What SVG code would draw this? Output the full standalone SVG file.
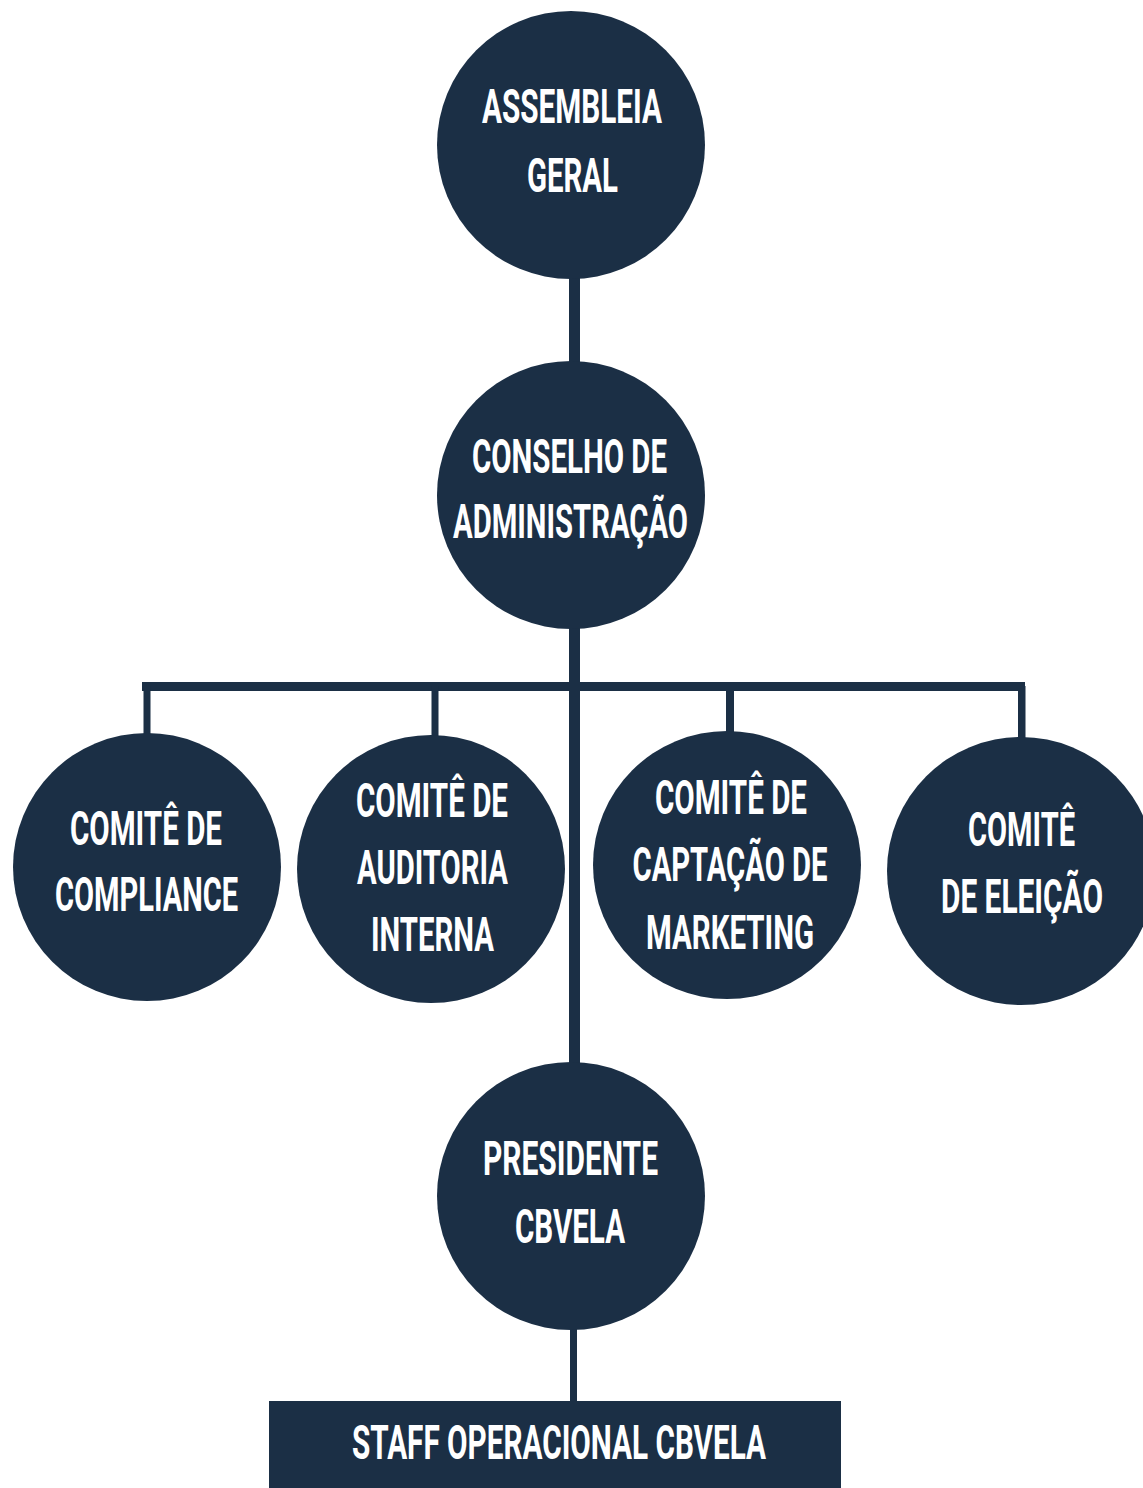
<svg xmlns="http://www.w3.org/2000/svg" width="1143" height="1488" viewBox="0 0 1143 1488">
<style>
.n{fill:#1b2f45}
.c{fill:#1b2f45}
.t{fill:#ffffff;font-family:"Roboto","Liberation Sans",sans-serif;font-weight:bold;font-size:48px;text-anchor:middle}
</style>
<rect width="1143" height="1488" fill="#ffffff"/>
<g id="connectors">
<rect class="c" x="569" y="270" width="11" height="100"/>
<rect class="c" x="569" y="620" width="11" height="450"/>
<rect class="c" x="142" y="682" width="883" height="9"/>
<rect class="c" x="143.5" y="686" width="7" height="52"/>
<rect class="c" x="431.5" y="686" width="7" height="54"/>
<rect class="c" x="726" y="686" width="8" height="50"/>
<rect class="c" x="1018" y="686" width="7.5" height="56"/>
<rect class="c" x="570" y="1320" width="7" height="85"/>
</g>
<g id="assembleia">
<circle class="n" cx="571" cy="145" r="134"/>
<text class="t" x="572" y="123" textLength="180" lengthAdjust="spacingAndGlyphs">ASSEMBLEIA</text>
<text class="t" x="572.5" y="192" textLength="91" lengthAdjust="spacingAndGlyphs">GERAL</text>
</g>
<g id="conselho">
<circle class="n" cx="571" cy="495" r="134"/>
<text class="t" x="569.5" y="473" textLength="195" lengthAdjust="spacingAndGlyphs">CONSELHO DE</text>
<text class="t" x="570.5" y="538" textLength="235" lengthAdjust="spacingAndGlyphs">ADMINISTRAÇÃO</text>
</g>
<g id="compliance">
<circle class="n" cx="147" cy="867" r="134"/>
<text class="t" x="146" y="845" textLength="152" lengthAdjust="spacingAndGlyphs">COMITÊ DE</text>
<text class="t" x="146.5" y="911" textLength="183" lengthAdjust="spacingAndGlyphs">COMPLIANCE</text>
</g>
<g id="auditoria">
<circle class="n" cx="431" cy="869" r="134"/>
<text class="t" x="432" y="817" textLength="152" lengthAdjust="spacingAndGlyphs">COMITÊ DE</text>
<text class="t" x="432.5" y="884" textLength="151" lengthAdjust="spacingAndGlyphs">AUDITORIA</text>
<text class="t" x="432.5" y="951" textLength="123" lengthAdjust="spacingAndGlyphs">INTERNA</text>
</g>
<g id="captacao">
<circle class="n" cx="727" cy="865" r="134"/>
<text class="t" x="731" y="814" textLength="152" lengthAdjust="spacingAndGlyphs">COMITÊ DE</text>
<text class="t" x="730" y="881" textLength="195" lengthAdjust="spacingAndGlyphs">CAPTAÇÃO DE</text>
<text class="t" x="730" y="949" textLength="168" lengthAdjust="spacingAndGlyphs">MARKETING</text>
</g>
<g id="eleicao">
<circle class="n" cx="1021" cy="871" r="134"/>
<text class="t" x="1021.5" y="846" textLength="107" lengthAdjust="spacingAndGlyphs">COMITÊ</text>
<text class="t" x="1022" y="913" textLength="162" lengthAdjust="spacingAndGlyphs">DE ELEIÇÃO</text>
</g>
<g id="presidente">
<circle class="n" cx="571" cy="1196" r="134"/>
<text class="t" x="570.5" y="1175" textLength="175" lengthAdjust="spacingAndGlyphs">PRESIDENTE</text>
<text class="t" x="570" y="1243" textLength="110" lengthAdjust="spacingAndGlyphs">CBVELA</text>
</g>
<g id="staff">
<rect class="n" x="269" y="1401" width="572" height="87"/>
<text class="t" x="559" y="1459" textLength="414" lengthAdjust="spacingAndGlyphs">STAFF OPERACIONAL CBVELA</text>
</g>
</svg>
